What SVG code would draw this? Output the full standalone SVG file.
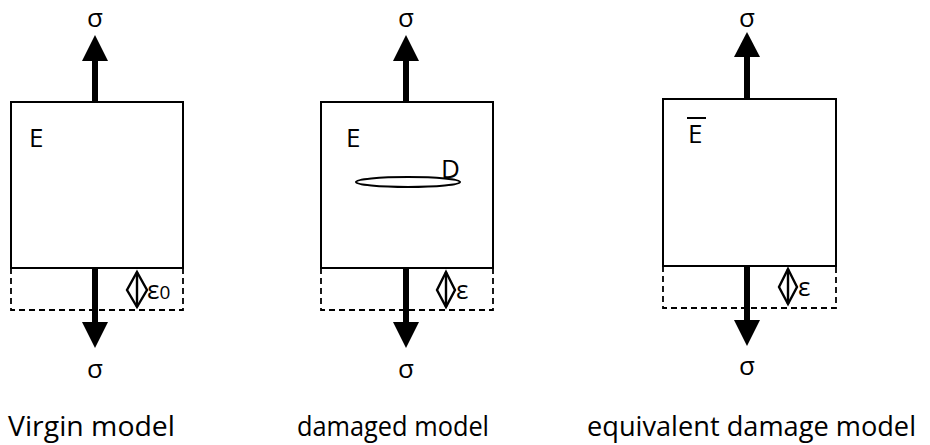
<svg xmlns="http://www.w3.org/2000/svg" width="930" height="445" viewBox="0 0 930 445">
<style>
.box{fill:none;stroke:#000;stroke-width:2}
.dash{fill:none;stroke:#000;stroke-width:1.8;stroke-dasharray:6,4}
.shaft{stroke:#000;stroke-width:6}
.head{fill:#000}
.dia{fill:none;stroke:#000;stroke-width:2.4}
text{font-family:"Open Sans","Liberation Sans",sans-serif;fill:#000}
.sig{font-size:26px;text-anchor:middle}
.lbl{font-size:26px}
.cap{font-size:27px}
</style>
<rect width="930" height="445" fill="#fff"/>
<g id="virgin">
<rect class="box" x="11" y="102" width="172" height="166"/>
<path class="dash" d="M11,268 V310 H183 V268"/>
<text class="lbl" x="29" y="147">E</text>
<polygon class="dia" points="137,272 147,290 137,307 127,290"/>
<line class="dia" x1="137" y1="272" x2="137" y2="307"/>
<text class="lbl" x="147" y="299">ε<tspan font-size="19">0</tspan></text>
<text class="sig" x="95" y="27">σ</text>
<text class="sig" x="95" y="378">σ</text>
<text class="cap" x="8" y="436" textLength="167" lengthAdjust="spacingAndGlyphs">Virgin model</text>
</g>
<g id="damaged">
<rect class="box" x="321" y="102" width="172" height="166"/>
<path class="dash" d="M321,268 V310 H493 V268"/>
<text class="lbl" x="346" y="147">E</text>
<ellipse cx="408" cy="182" rx="52" ry="5" fill="none" stroke="#000" stroke-width="2"/>
<text class="lbl" x="441" y="178">D</text>
<polygon class="dia" points="446,272 455,290 446,307 437,290"/>
<line class="dia" x1="446" y1="272" x2="446" y2="307"/>
<text class="lbl" x="456" y="299">ε</text>
<text class="sig" x="406" y="27">σ</text>
<text class="sig" x="406" y="378">σ</text>
<text class="cap" x="297" y="436" textLength="192" lengthAdjust="spacingAndGlyphs">damaged model</text>
</g>
<g id="equivalent">
<rect class="box" x="663" y="99" width="173" height="167"/>
<path class="dash" d="M663,266 V308 H836 V266"/>
<line x1="687" y1="118" x2="706" y2="118" stroke="#000" stroke-width="2"/>
<text class="lbl" x="688" y="143">E</text>
<polygon class="dia" points="788,269 797,287 788,304 779,287"/>
<line class="dia" x1="788" y1="269" x2="788" y2="304"/>
<text class="lbl" x="798" y="296">ε</text>
<text class="sig" x="747" y="27">σ</text>
<text class="sig" x="747" y="375">σ</text>
<text class="cap" x="587" y="436" textLength="329" lengthAdjust="spacingAndGlyphs">equivalent damage model</text>
</g>
<g id="connectors">
<line class="shaft" x1="95" y1="60" x2="95" y2="102"/>
<polygon class="head" points="95,35 108,61 82,61"/>
<line class="shaft" x1="95" y1="268" x2="95" y2="323"/>
<polygon class="head" points="95,348 108,322 82,322"/>
<line class="shaft" x1="406" y1="60" x2="406" y2="102"/>
<polygon class="head" points="406,35 419,61 393,61"/>
<line class="shaft" x1="406" y1="268" x2="406" y2="323"/>
<polygon class="head" points="406,348 419,322 393,322"/>
<line class="shaft" x1="747" y1="56" x2="747" y2="99"/>
<polygon class="head" points="747,32 760,57 734,57"/>
<line class="shaft" x1="747" y1="266" x2="747" y2="321"/>
<polygon class="head" points="747,346 760,320 734,320"/>
</g>
</svg>
